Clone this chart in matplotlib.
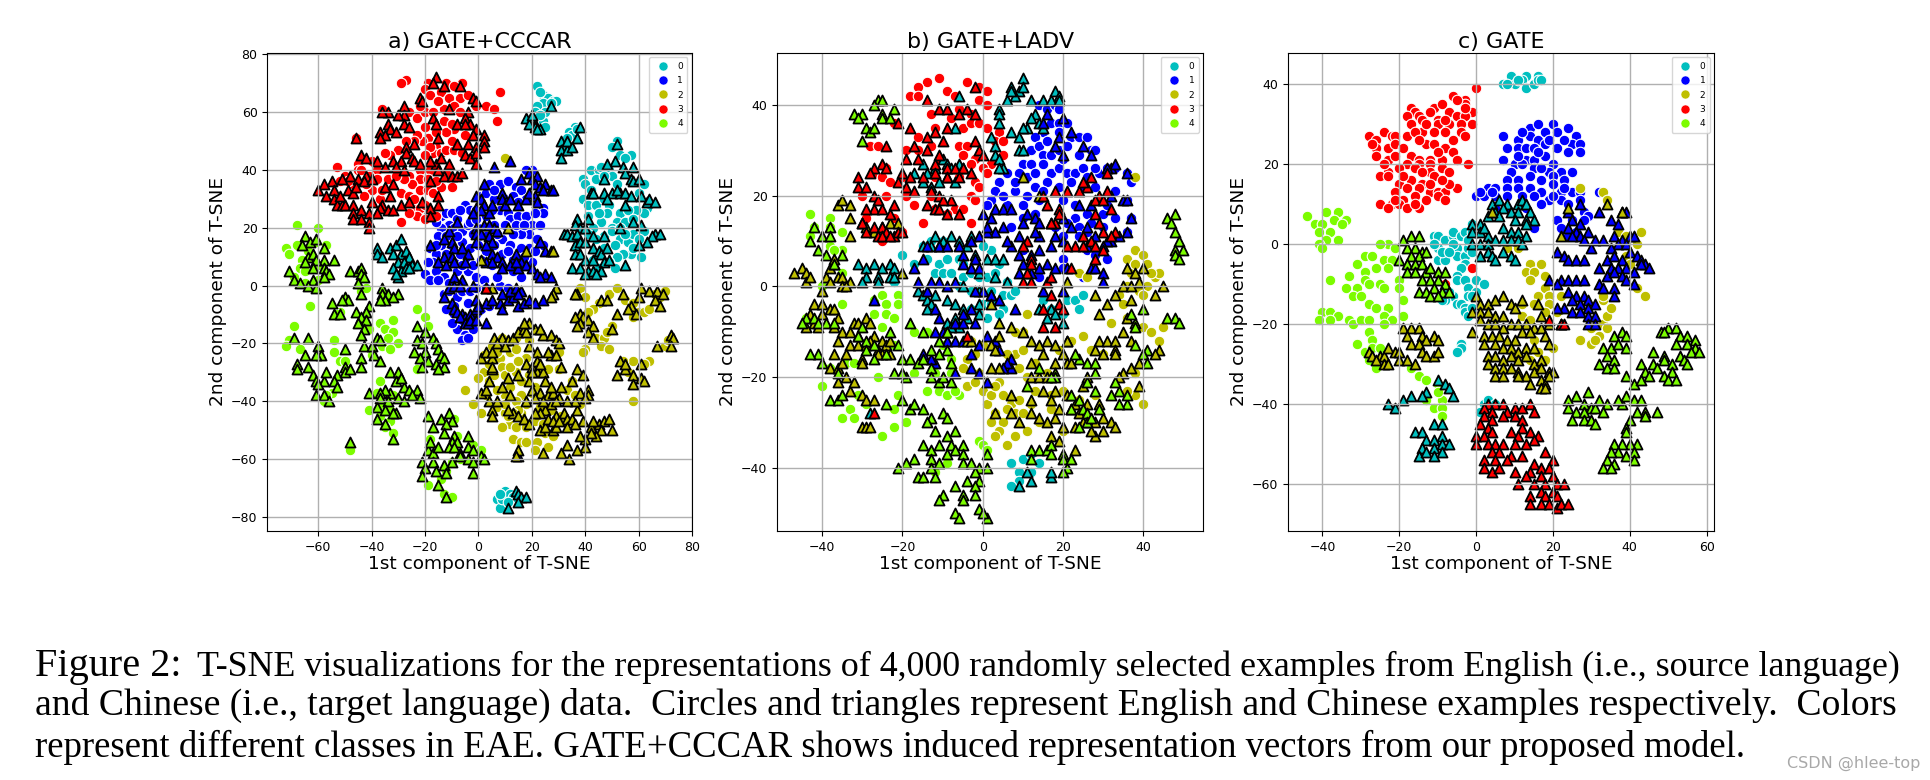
import matplotlib
matplotlib.use('Agg')
import matplotlib.pyplot as plt
from matplotlib.lines import Line2D

class_names = ['0', '1', '2', '3', '4']
class_colors = ['c', 'b', (0.75, 0.75, 0), 'r', 'lawngreen']

### a) GATE+CCCAR
a_c0 = [(22,69),(24,66),(26,65),(28,64),(29,64),(24,63),(22,62),(21,60),(20,58),(22,57),(24,57),(25,55),(36,55),(34,53),(35,52),(33,51),(37,54),
  (7,-74),(8,-77),(10,-71),(9,-74),(12,-72),(8,-72),(13,-73),(11,-75),(52,50),(50,48),(57,45),(53,45),(42,40),(45,40),(46,41),(49,40),(50,38),(39,37),(44,37),(40,35),(42,33),(39,30),(41,28),(44,28),(47,30),(49,28),(53,25),(60,32),(62,35),(63,27),(62,25),(59,26),(46,22),(48,25),(52,22),(50,20),(47,17),(43,20),(41,18),(44,16),(50,19),(53,16),(56,15),(60,14),(58,18),(62,19),(57,11),(54,11),(52,10),(61,10),(49,8),(51,6),(43,9),(45,6),(55,22),(41,24),(60,16),(53,20),
  (23,67),(27,63),(25,60),(23,59),(55,44),(47,38),(52,35),(56,26),(58,23),(45,25),(51,14),(55,18),(47,13),(58,13)]
a_t0 = [(18,58),(20,58),(21,56),(19,56),(21,55),(23,54),(22,54),(27,62),(20,59),(31,50),(32,48),(31,47),(33,47),(31,44),(37,51),(38,55),(33,50),(35,48),
  (14,-71),(15,-72),(16,-73),(18,-73),(15,-75),(11,-77),(52,49),(51,43),(48,42),(54,41),(58,41),(55,39),(57,37),(47,37),(42,32),(43,32),(47,32),(50,32),(48,30),(53,32),(52,33),(55,32),(57,31),(61,31),(63,29),(64,30),(55,28),(66,29),(58,36),(60,37),(41,23),(37,23),(36,21),(38,20),(40,20),(32,18),(33,18),(35,17),(37,18),(43,17),(47,17),(36,14),(38,15),(40,15),(43,13),(45,12),(46,11),(48,13),(36,11),(38,11),(40,9),(43,9),(47,8),(49,9),(35,6),(38,6),(41,5),(43,5),(46,5),(40,4),(44,4),(55,7),(58,22),(61,21),(66,18),(68,18),(65,17),(63,15),(60,14),(53,20),
  (-38,13),(-38,11),(-36,10),(-33,13),(-31,14),(-29,16),(-32,11),(-29,11),(-27,12),(-26,10),(-30,8),(-28,8),(-32,6),(-29,5),(-27,6),(-25,7),(-23,7),(-26,6),(-30,3),(-31,4)]
a_c1 = [(-14,24),(-12,25),(-10,25),(-8,23),(-5,28),(-11,21),(-14,20),(-9,20),(-6,19),(-4,21),(-2,18),(-3,26),(1,31),(3,32),(6,30),(8,35),(11,36),(14,34),(16,33),(18,30),(21,29),(24,27),(8,26),(11,25),(12,23),(15,24),(18,24),(20,21),(23,21),(24,25),(19,18),(16,18),(13,18),(9,16),(7,18),(22,16),(19,13),(16,13),(12,14),(-18,13),(-16,11),(-14,14),(-10,13),(-6,15),(-3,13),(0,14),(3,12),(9,11),(13,9),(20,8),(-20,4),(-18,2),(-16,5),(-13,3),(-11,1),(-8,5),(-4,5),(-1,3),(2,2),(5,7),(16,3),(-13,-3),(-11,-2),(-8,-4),(-6,-2),(-3,-2),(-1,-1),(3,-1),(8,0),(11,-1),(-9,-10),(-7,-12),(-6,-13),(-8,-15),(-5,-17),(-6,-19),(-2,-15),(-3,-12),(-1,-10),(1,-8),(4,-7),(20,40),(18,40),(-17,8),(-9,8),(-5,9),(-2,7),(1,9),(6,21),(3,24),(-1,26),(-3,22),(0,20),(24,14),(21,12),(-19,8),(-15,17),(-12,17),(-8,17),(3,17),(10,30),
  (4,35),(6,33),(13,31),(15,29),(5,26),(-16,22),(-7,26),(-1,23),(10,21),(14,21),(17,21),(21,25),(-12,11),(-7,11),(6,14),(11,12),(17,10),(-15,2),(-6,7),(7,3),(13,5),(-4,-6),(-9,-7),(-12,-8),(-10,-13),(-4,-18),(-16,14)]
a_t1 = [(6,41),(12,43),(2,35),(-1,31),(1,30),(-1,27),(2,28),(-2,25),(1,26),(4,25),(9,32),(9,30),(10,28),(5,28),(12,30),(15,28),(18,30),(16,37),(19,39),(20,37),(22,38),(21,35),(23,34),(25,35),(27,33),(24,33),(28,33),(21,31),(19,32),(22,29),(-1,20),(2,21),(-1,18),(4,21),(6,20),(1,18),(4,17),(5,15),(7,19),(-8,22),(-11,19),(-10,15),(-13,16),(-9,13),(-6,13),(-4,11),(3,14),(-1,15),(5,11),(7,10),(-18,14),(-13,10),(-10,10),(-15,8),(-12,7),(-9,8),(-5,8),(3,8),(5,8),(9,8),(14,11),(16,8),(12,7),(15,6),(18,7),(20,6),(23,15),(25,12),(27,12),(22,4),(25,4),(27,3),(23,3),(14,8),(9,6),(-9,3),(-6,2),(-11,-1),(-9,0),(-7,0),(-2,0),(-1,-5),(-13,-4),(-10,-6),(-9,-8),(-8,-9),(-6,-10),(-5,-11),(-3,-10),(-1,-8),(0,-7),(3,-6),(5,-5),(8,-6),(9,-8),(11,-5),(13,-4),(15,-7),(17,-6),(19,-5),(21,-6),(24,-5),(9,-3),(12,-2),(14,-1),(16,-2),(15,-3),(-7,-11),(-5,-13),(-4,-13),(-3,-12),(-1,-12),(3,-13),(15,-59)]
a_c2 = [(-6,-29),(-5,-36),(-2,-41),(1,-44),(2,-30),(2,-24),(4,-27),(4,-33),(5,-21),(9,-18),(11,-20),(12,-23),(14,-22),(18,-25),(8,-25),(9,-28),(10,-31),(14,-30),(12,-35),(16,-38),(14,-40),(10,-38),(7,-36),(7,-42),(10,-44),(12,-48),(9,-49),(14,-49),(11,-45),(16,-44),(18,-41),(20,-37),(23,-29),(26,-29),(30,-29),(30,-23),(21,-47),(24,-48),(25,-51),(28,-52),(22,-54),(21,-57),(26,-56),(13,-53),(16,-54),(18,-54),(33,-36),(36,-38),(38,-41),(35,-33),(27,-43),(31,-45),(38,-1),(40,-4),(45,-6),(43,-8),(41,-9),(49,-3),(52,-1),(55,-5),(58,-6),(60,-9),(58,-11),(62,-9),(64,-8),(68,-4),(70,-2),(66,-3),(44,-18),(47,-18),(46,-21),(49,-22),(40,-22),(39,-23),(50,-14),(48,-16),(58,-26),(54,-26),(64,-26),(62,-27),(58,-40),(56,-30),(70,-21),(71,-19),(10,44),(15,-43),(19,-31),
  (0,-32),(6,-31),(3,-38),(16,-33),(12,-28),(15,-26),(21,-35),(10,-41),(13,-44),(18,-49),(23,-42),(19,-19),(14,-18),(7,-23)]
a_t2 = [(6,-18),(9,-18),(11,-19),(13,-18),(15,-16),(17,-15),(18,-16),(21,-15),(24,-17),(27,-17),(29,-19),(30,-20),(5,-25),(1,-25),(3,-23),(5,-23),(10,-21),(7,-20),(19,-21),(22,-23),(18,-27),(20,-28),(22,-26),(27,-24),(26,-23),(29,-24),(5,-29),(5,-28),(1,-37),(3,-36),(4,-40),(5,-43),(7,-40),(5,-45),(9,-35),(4,-33),(11,-32),(15,-31),(19,-33),(22,-30),(24,-30),(25,-33),(20,-36),(23,-37),(26,-38),(28,-37),(31,-35),(31,-28),(35,-33),(37,-29),(39,-31),(41,-36),(38,-37),(41,-38),(40,-39),(30,-39),(27,-41),(25,-43),(23,-44),(29,-45),(32,-44),(33,-46),(35,-46),(37,-43),(13,-44),(15,-45),(11,-43),(17,-46),(21,-44),(19,-48),(23,-50),(25,-49),(28,-50),(29,-49),(33,-49),(39,-47),(42,-49),(45,-48),(47,-47),(49,-46),(50,-50),(46,-50),(44,-52),(42,-51),(40,-53),(40,-56),(15,-57),(14,-59),(24,-58),(31,-58),(34,-60),(33,-55),(37,-57),(36,-40),(12,-38),(37,-3),(38,-10),(36,-11),(39,-11),(41,-12),(38,-13),(43,-14),(37,-14),(41,-16),(46,-5),(48,-5),(43,-18),(50,-15),(52,-10),(54,-3),(57,-7),(60,-4),(56,-8),(59,-10),(61,-1),(64,-2),(67,-2),(66,-5),(68,-7),(69,-3),(53,-26),(52,-31),(55,-29),(55,-27),(58,-31),(58,-34),(61,-32),(61,-27),(62,-33),(67,-21),(72,-17),(73,-18),(72,-21),(19,-13),(17,-13),(23,-15),(18,12),(28,12),(29,-1),(28,-3),(27,-4),(1,9),(5,-1),(3,-1),(11,20),(36,-3),
  (24,-40),(27,-35),(29,-40),(33,-40),(21,-39),(18,-40),(26,-46),(28,-47),(30,-47),(36,-48),(20,-30),(23,-27),(38,-52),(43,-47)]
a_c3 = [(-27,71),(-29,70),(-19,70),(-20,68),(-12,70),(-6,70),(-9,69),(-18,66),(-14,67),(-11,65),(-7,65),(-4,66),(-1,62),(3,62),(6,61),(8,67),(7,57),(-26,60),(-23,58),(-20,60),(-17,60),(-13,61),(-9,62),(-7,60),(-20,55),(-13,57),(-9,54),(-12,53),(-19,51),(-16,48),(-21,50),(-23,52),(-17,46),(-14,46),(-12,47),(-9,47),(-6,46),(-30,47),(-33,45),(-35,46),(-45,42),(-45,40),(-40,43),(-38,40),(-44,40),(-41,38),(-38,37),(-40,33),(-34,37),(-26,38),(-22,40),(-22,37),(-25,35),(-22,33),(-19,33),(-17,32),(-14,34),(-29,32),(-26,31),(-25,27),(-22,27),(-20,28),(-23,24),(-29,22),(-20,23),(-46,51),(-53,41),(-50,38),(-52,36),(-47,35),(-36,61),(-16,24),(-24,50),(-18,40),(-12,39),(-10,56),(-5,52),(-3,44),(-43,31),(-37,30),
  (-15,64),(-22,62),(-16,53),(-18,48),(-10,50),(-20,45),(-28,37),(-31,38),(-19,37),(-16,36),(-26,25),(-24,30),(-42,35),(-49,36),(-36,33),(-10,34),(-27,50)]
a_t3 = [(-16,72),(-13,69),(-17,70),(-7,69),(-22,65),(-21,64),(-2,65),(-1,64),(-28,62),(-28,59),(-34,60),(-36,60),(-30,59),(-11,61),(-4,60),(-5,58),(-3,56),(-17,58),(-28,56),(-26,55),(-34,56),(-33,54),(-37,53),(-35,52),(-31,53),(-37,51),(-16,56),(-8,56),(-5,56),(-1,54),(-2,52),(2,52),(2,50),(-1,48),(-4,49),(-8,49),(-15,51),(-27,48),(-24,49),(-46,51),(2,48),(-27,46),(-25,44),(-44,45),(-42,44),(-38,43),(-32,43),(-29,43),(-24,43),(-22,42),(-16,42),(-14,44),(-11,42),(-5,45),(-3,44),(-1,46),(-1,42),(-35,41),(-42,38),(-48,38),(-45,37),(-51,37),(-55,36),(-54,33),(-58,35),(-60,33),(-57,31),(-54,30),(-49,33),(-47,32),(-46,34),(-43,36),(-40,37),(-35,34),(-32,35),(-33,31),(-36,28),(-29,28),(-26,29),(-21,29),(-18,27),(-15,31),(-15,28),(-18,36),(-13,38),(-10,38),(-8,38),(-6,39),(-53,28),(-51,28),(-50,28),(-47,28),(-47,25),(-44,26),(-41,25),(-41,22),(-41,20),(-37,27),(-34,26),(-32,26),(-18,24),(-47,23),(-44,23),(-38,25),(-18,43),(-15,40),(-31,41),(-28,40),(-40,29),(-52,31),(3,-1)]
a_c4 = [(-68,21),(-60,20),(-72,13),(-71,11),(-68,14),(-64,12),(-57,14),(-66,9),(-61,15),(-67,6),(-65,5),(-60,7),(-69,3),(-65,1),(-60,2),(-63,-7),(-44,-2),(-42,-1),(-52,-9),(-53,-10),(-23,-8),(-20,-11),(-19,-14),(-37,-13),(-32,-12),(-35,-15),(-32,-16),(-30,-20),(-34,-18),(-36,-21),(-41,-15),(-69,-14),(-71,-19),(-72,-21),(-67,-22),(-54,-19),(-54,-23),(-52,-26),(-50,-26),(-40,-24),(-33,-22),(-37,-33),(-38,-37),(-37,-41),(-41,-43),(-37,-45),(-33,-47),(-35,-49),(-32,-51),(-48,-56),(-48,-57),(-32,-38),(-55,-37),(-57,-38),(-58,-40),(-23,-29),(-9,-46),(-8,-52),(-2,-55),(1,-57),(-7,-60),(-10,-61),(-14,-67),(-19,-69),(-13,-72),(-10,-73),(-18,-53),(-12,-64),(-23,-38),(-33,-43)]
a_t4 = [(-65,17),(-63,15),(-66,14),(-61,16),(-58,13),(-64,10),(-62,11),(-58,9),(-54,9),(-65,8),(-61,9),(-62,6),(-58,6),(-71,5),(-57,5),(-56,4),(-58,3),(-69,2),(-67,1),(-62,2),(-64,0),(-61,-1),(-48,5),(-45,5),(-44,6),(-44,4),(-43,3),(-45,1),(-36,-1),(-36,-3),(-34,-3),(-30,-3),(-32,-4),(-35,-5),(-37,-5),(-44,-3),(-50,-4),(-49,-5),(-51,-5),(-55,-6),(-54,-10),(-52,-10),(-41,-7),(-42,-9),(-46,-9),(-44,-11),(-42,-12),(-45,-13),(-43,-15),(-44,-17),(-38,-18),(-37,-19),(-43,-21),(-40,-21),(-39,-24),(-44,-25),(-37,-26),(-44,-28),(-23,-14),(-20,-16),(-17,-18),(-23,-19),(-21,-20),(-16,-20),(-24,-23),(-20,-23),(-15,-22),(-14,-24),(-13,-25),(-22,-25),(-19,-26),(-16,-27),(-13,-28),(-21,-28),(-15,-29),(-69,-18),(-64,-18),(-60,-21),(-59,-24),(-61,-24),(-65,-24),(-68,-27),(-68,-29),(-64,-28),(-62,-31),(-61,-33),(-58,-33),(-57,-30),(-53,-31),(-50,-28),(-50,-22),(-50,-30),(-48,-29),(-54,-33),(-53,-35),(-60,-34),(-61,-38),(-58,-38),(-56,-40),(-33,-30),(-30,-30),(-31,-33),(-28,-35),(-29,-32),(-23,-36),(-26,-36),(-33,-37),(-35,-36),(-37,-37),(-41,-37),(-37,-39),(-34,-40),(-30,-39),(-28,-40),(-22,-39),(-25,-38),(-38,-42),(-35,-43),(-31,-44),(-38,-46),(-35,-48),(-32,-44),(-32,-53),(-48,-54),(-19,-45),(-14,-46),(-11,-44),(-10,-47),(-17,-49),(-12,-48),(-9,-52),(-13,-51),(-10,-54),(-8,-54),(-4,-52),(-19,-57),(-17,-58),(-15,-56),(-11,-56),(-9,-56),(-7,-58),(-4,-56),(-2,-57),(-21,-61),(-17,-61),(-13,-62),(-10,-61),(-7,-59),(-4,-60),(-2,-61),(1,-59),(2,-60),(-20,-63),(-16,-64),(-12,-65),(-2,-65),(-21,-66),(-15,-69),(-12,-73),(-18,-54)]

### b) GATE+LADV
b_c0 = [(-20,7),(-17,5),(-13,10),(-15,9),(-10,10),(-14,6),(-11,5),(-9,6),(-6,6),(-12,3),(-10,3),(-8,3),(-5,2),(-3,3),(-1,2),(1,2),(2,8),(0,9),(4,5),(-22,1),(-6,0),(-3,-1),(-1,-1),(2,-1),(5,-2),(7,-2),(0,-4),(2,-4),(5,-5),(-3,-5),(1,-7),(4,-6),(-1,-6),(17,-5),(20,-6),(21,-3),(23,-3),(25,-2),(24,-5),(15,-3),(7,-39),(9,-41),(10,-38),(12,-37),(14,-39),(9,-43),(12,-41),(7,-44),(-5,5),(-2,6),(3,3),(6,1),(8,-1)]
b_t0 = [(-6,42),(7,44),(9,43),(10,46),(10,44),(8,42),(12,41),(13,38),(15,41),(17,41),(18,43),(19,42),(6,41),(7,43),(4,39),(4,38),(12,37),(11,35),(14,36),(15,35),(19,41),(-7,35),(4,36),(10,35),(7,34),(9,33),(2,33),(9,30),(10,30),(3,31),(3,29),(4,28),(5,26),(4,26),(-1,-1),(-10,28),(-9,27),(-6,27),(-8,26),(-5,26),(-12,26),(-15,27),(-17,25),(-14,25),(-11,23),(-9,24),(-7,23),(-13,22),(-15,23),(-12,11),(-10,10),(-8,11),(-6,10),(-3,11),(-4,9),(-15,9),(-13,9),(-11,9),(-2,7),(1,6),(3,6),(5,6),(-31,5),(-29,4),(-27,5),(-25,4),(-23,5),(-22,4),(-23,2),(-26,2),(-29,2),(-30,1),(-26,1),(-22,2),(-1,3),(3,2),(6,1),(-5,0),(-16,-1),(-15,-2),(-14,-3),(-13,-4),(-12,-2),(-14,-5),(-9,-3),(-7,-4),(-5,-5),(-9,-8),(-7,-7),(-6,-9),(-8,-9),(-4,-7),(14,-5),(17,-5),(18,-6),(16,-7),(20,-8),(-28,-28),(17,-42),(12,-43),(9,-44),(-1,-4),(2,-2),(-1,-6),(11,-41),(17,-41)]
b_c1 = [(14,40),(16,39),(18,40),(19,39),(17,36),(19,36),(15,34),(19,34),(13,33),(21,36),(22,33),(24,33),(26,33),(12,30),(14,31),(15,29),(17,29),(19,30),(21,31),(24,29),(27,30),(28,30),(10,27),(12,27),(15,27),(17,25),(19,26),(9,25),(6,25),(11,24),(16,23),(13,22),(15,21),(19,22),(21,25),(23,25),(25,26),(26,24),(29,25),(31,26),(33,26),(36,25),(37,23),(4,23),(3,21),(8,21),(11,20),(2,19),(-2,19),(1,18),(6,18),(10,18),(13,16),(23,18),(26,16),(27,14),(30,16),(30,13),(33,15),(36,19),(37,15),(36,12),(7,13),(23,15),(24,13),(24,11),(26,8),(28,7),(31,6),(20,6),(20,4),(25,2),(14,2),(10,8),(18,13),(20,11),
  (16,32),(20,28),(13,25),(8,23),(5,20),(14,19),(20,19),(25,22),(28,22),(31,18),(33,21),(22,23),(28,26),(10,15),(21,14),(33,11),(26,12)]
b_t1 = [(-27,-3),(-12,-17),(-7,-19),(-9,-12),(-7,-12),(-5,-12),(-3,-15),(-1,-13),(1,-11),(3,-12),(4,-14),(-3,-18),(-1,-19),(7,-16),(1,-21),(-10,-10),(-9,-10),(-12,-10),(-15,-15),(-13,-16),(-7,-8),(-5,-8),(-5,-6),(-3,-5),(-2,-8),(0,-1),(2,-2),(4,-3),(-12,-5),(-11,-7),(8,-5),(7,-18),(6,-17),(5,-18),(-2,-1),(-9,0),(-7,1),(-11,1),(-13,1),(-16,1),(-17,4),(-15,6),(-14,9),(-11,9),(-9,9),(-6,9),(-5,7),(-2,6),(-3,10),(-5,5),(-3,4),(-1,4),(19,33),(18,31),(25,31),(27,29),(20,29),(16,38),(15,36),(20,37),(22,34),(32,26),(33,27),(36,25),(32,20),(35,19),(36,19),(37,15),(36,12),(34,11),(32,10),(31,10),(30,9),(27,4),(28,4),(30,3),(30,1),(21,4),(15,-1),(20,-1),(14,8),(14,11),(17,14),(20,15),(22,13),(24,18),(27,18),(26,13),(28,11),(26,9),(20,10),(18,11),(13,12),(11,16),(10,14),(9,11),(7,9),(9,7),(12,7),(14,4),(16,5),(18,4),(10,5),(9,3),(12,3),(6,10),(5,13),(3,12),(1,12),(-1,11),(1,13),(3,17),(5,17),(7,17),(2,15),(0,16),(13,15),(14,14),(17,9),(31,26),(-14,-1)]
b_c2 = [(-1,-19),(-3,-12),(-2,-15),(0,-13),(-4,-16),(0,-23),(1,-26),(3,-28),(2,-24),(5,-24),(7,-26),(8,-28),(5,-30),(4,-32),(6,-35),(11,-32),(9,-25),(11,-20),(13,-17),(8,-15),(10,-14),(10,-10),(8,-10),(11,-6),(14,-20),(17,-24),(20,-23),(24,-25),(25,-28),(28,-24),(20,-32),(17,-27),(25,-11),(22,-12),(19,-14),(27,-14),(30,-15),(32,-8),(24,3),(26,2),(36,6),(37,3),(38,8),(40,7),(41,5),(43,2),(44,3),(41,0),(39,-1),(36,0),(34,-2),(40,-9),(42,-10),(44,-12),(45,-9),(36,-7),(35,-4),(38,24),(38,-19),(38,-24),(40,-26),(36,-23),(-5,-18),(-4,-22),(-2,-21),(4,-21),(6,-15),(12,-26),(14,-30),
  (3,-22),(6,-27),(10,-28),(13,-23),(16,-19),(9,-18),(3,-33),(8,-33),(2,-30),(38,5),(42,3),(40,-2)]
b_t2 = [(-47,3),(-45,4),(-44,3),(-44,1),(-43,2),(-39,2),(-38,4),(-37,5),(-37,6),(-36,2),(-35,2),(-38,1),(-40,-1),(-33,1),(-35,0),(-34,0),(-42,-4),(-40,-4),(-38,-5),(-37,-5),(-36,-7),(-42,-8),(-44,-9),(-41,-9),(-37,-9),(-32,-8),(-31,-8),(-29,-7),(-28,-8),(-35,-10),(-36,-12),(-31,-11),(-27,-11),(-25,-12),(-33,-13),(-31,-13),(-29,-13),(-26,-14),(-24,-13),(-37,-15),(-25,-15),(-23,-15),(-30,-16),(-30,-17),(-38,-18),(-36,-18),(-34,-20),(-36,-21),(-33,-23),(-30,-24),(-29,-25),(-27,-25),(-30,-31),(-29,-31),(-28,-31),(-36,18),(-35,19),(-33,18),(-33,15),(-30,14),(-29,13),(-27,12),(-25,13),(-23,14),(-21,14),(-33,11),(-4,-12),(-3,-12),(2,-13),(3,-14),(4,-11),(4,-8),(7,-9),(10,-10),(4,-18),(2,-18),(7,-24),(7,-28),(9,-30),(3,-28),(12,-12),(14,-13),(12,-17),(16,-12),(18,-13),(21,-12),(15,-15),(12,-20),(14,-20),(16,-20),(18,-17),(21,-17),(20,-15),(22,-17),(15,-23),(18,-23),(17,-25),(21,-24),(12,-25),(12,-28),(14,-29),(16,-30),(18,-29),(22,-27),(23,-31),(25,-30),(23,-26),(26,-26),(29,-26),(28,-30),(30,-29),(32,-30),(33,-31),(30,-32),(28,-33),(23,-36),(19,-34),(17,-33),(25,-22),(26,-20),(37,-12),(29,-6),(31,-4),(28,-2),(33,-2),(35,0),(37,-3),(36,-7),(35,-10),(29,-12),(31,-12),(33,-12),(28,-14),(30,-15),(33,-14),(33,-15),(35,-19),(34,-20),(37,-18),(39,-17),(39,-22),(36,4),(38,3),(40,4),(39,1),(43,-2),(45,0),(44,-14),(43,-15),(37,0),(2,-4),(10,24),(14,20),(21,1),(-20,3),(-26,-15),(21,-12),
  (-40,-6),(-43,-6),(-33,-10),(-28,-12),(-35,-17),(-32,-21),(-34,-15),(-23,-12),(19,-27),(24,-28),(20,-31),(27,-32)]
b_c3 = [(-11,46),(-14,45),(-16,44),(-18,42),(-9,43),(-7,42),(-4,45),(-1,44),(1,43),(-16,42),(-1,41),(1,40),(-13,38),(-6,39),(-3,38),(-22,36),(-8,37),(-5,35),(-3,36),(-12,35),(-16,33),(-1,36),(1,35),(4,34),(3,32),(5,32),(-6,31),(-4,31),(-2,28),(-5,29),(-3,27),(2,27),(5,29),(-28,31),(-26,31),(-19,30),(-16,30),(-13,31),(-11,28),(-24,26),(-27,25),(-25,24),(-23,23),(0,26),(1,25),(-2,23),(-1,22),(-3,20),(-19,20),(-17,18),(-13,20),(-7,17),(-5,17),(-3,14),(-15,14),(-24,20),(-27,12),(-25,10),(-22,15),(-20,12),(-30,20),(-29,15),(-12,17),(-9,16),(-6,24),(-20,24),(-12,24),(-2,19)]
b_t3 = [(-2,44),(-14,41),(-11,39),(-9,39),(-6,38),(-4,39),(-2,38),(-21,36),(-18,35),(-12,34),(-9,35),(-14,33),(-10,32),(-2,32),(-1,30),(0,29),(-24,31),(-17,31),(-14,30),(-11,29),(-19,28),(-16,28),(-12,27),(-9,26),(-7,26),(-5,26),(-25,27),(-27,26),(-28,25),(-24,26),(-20,25),(-18,24),(-15,24),(-12,25),(-9,24),(-6,24),(-3,25),(-31,24),(-31,22),(-29,22),(-21,23),(-19,22),(-17,21),(-13,21),(-11,20),(-8,19),(-10,19),(-27,20),(-26,19),(-22,18),(-14,18),(-12,17),(-11,17),(-9,16),(-6,16),(-27,17),(-25,17),(-23,16),(-29,17),(-27,13),(-25,13),(-30,14),(-24,12),(-22,11),(-21,12),(-29,12),(-26,11),(-25,11),(-23,11),(-20,12),(-27,-28),(15,20),(18,21),(16,18),(19,17),(18,14),(19,16),(21,21),(24,21),(26,22),(27,24),(29,20),(31,21),(28,19),(30,19),(32,17),(28,16),(29,14),(30,12),(33,12),(32,11),(25,11),(27,10),(23,9),(25,9),(28,9),(30,8),(28,6),(21,9),(11,10),(10,9),(12,6),(12,5),(11,3),(10,1),(12,1),(16,1),(17,2),(17,-2),(19,-4),(15,-5),(20,-5),(18,-9),(15,-9),(22,4),(31,25),(-4,-11),(17,14),(25,23)]
b_c4 = [(-43,16),(-42,13),(-43,11),(-38,15),(-35,12),(-38,13),(-35,8),(-38,9),(-37,8),(-35,3),(-40,0),(-35,-4),(-44,-7),(-42,-8),(-27,-3),(-25,-2),(-24,-4),(-21,-2),(-21,-4),(-27,-6),(-24,-6),(-22,-7),(-25,-9),(-17,-10),(-22,-13),(-38,-18),(-34,-17),(-32,-17),(-31,-24),(-33,-27),(-35,-29),(-32,-29),(-29,-26),(-40,-22),(-26,-20),(-14,-23),(-11,-23),(-9,-24),(-6,-24),(-7,-23),(-21,-24),(-22,-27),(-25,-33),(-22,-31),(-19,-30),(-1,-34),(0,-35),(1,-36),(-9,-39),(-12,-41),(-17,-19),(-12,-19),(-8,-19),(-8,-16),(-14,-10),(-10,-13)]
b_t4 = [(-32,38),(-30,38),(-31,37),(-29,35),(-28,34),(-27,35),(-30,32),(-26,41),(-25,41),(-27,40),(-25,38),(-25,37),(-22,39),(-23,37),(-42,13),(-40,11),(-38,13),(-38,11),(-43,10),(-41,8),(-39,7),(-35,7),(-37,5),(-44,-7),(-42,-7),(-41,-8),(-39,-8),(-45,-8),(-37,-8),(-30,-9),(-31,-11),(-29,-12),(-27,-13),(-41,-15),(-43,-15),(-40,-17),(-36,-19),(-38,-25),(-36,-25),(-35,-24),(-22,-19),(-19,-20),(-29,-14),(-27,-16),(-24,-15),(-20,-16),(-18,-16),(-16,-17),(-13,-18),(-15,-16),(-13,-14),(-11,-15),(-9,-14),(-8,-17),(-11,-12),(-9,-10),(-18,-8),(-15,-10),(-23,-10),(-21,-13),(-20,-19),(-13,-20),(-11,-21),(-10,-20),(-8,-21),(-24,-26),(-20,-25),(-18,-27),(-17,-26),(-15,-27),(-13,-29),(-10,-28),(-9,-29),(-14,-30),(-12,-32),(-9,-33),(-7,-32),(-15,-35),(-13,-36),(-11,-35),(-8,-35),(-5,-35),(-9,-37),(-7,-36),(-5,-37),(-17,-38),(-19,-39),(-21,-40),(-13,-38),(-11,-39),(-13,-40),(-5,-39),(-3,-39),(-1,-40),(1,-37),(1,-40),(-2,-41),(-1,-43),(-16,-42),(-15,-42),(-12,-42),(-7,-44),(-5,-46),(-2,-44),(-10,-46),(-11,-47),(-5,-47),(-2,-46),(-1,-49),(-7,-50),(-6,-51),(1,-51),(0,-50),(-4,-43),(12,-36),(14,-36),(16,-36),(17,-35),(17,-37),(12,-38),(20,-37),(21,-40),(20,-41),(20,-38),(22,-38),(22,-24),(24,-25),(25,-27),(26,-28),(22,-27),(26,-30),(29,-27),(27,-29),(24,-31),(28,-23),(11,-22),(14,-18),(18,-19),(24,-16),(26,-17),(28,-19),(28,-17),(23,-15),(36,-26),(36,-24),(34,-23),(33,-21),(32,-24),(34,-26),(38,-13),(41,-14),(40,-15),(41,-17),(38,-8),(40,-5),(37,-6),(38,-9),(46,-7),(48,-7),(49,-8),(46,15),(48,16),(47,14),(48,12),(49,10),(48,8),(50,8),(48,7),(49,6),(18,-20),(26,-21),(17,-20)]

### c) GATE
c_c0 = [(7,40),(9,42),(10,40),(13,42),(12,41),(13,39),(15,40),(16,42),(16,41),(17,41),(8,40),(11,41),(-11,2),(-10,2),(-8,1),(-6,2),(-6,3),(-4,2),(-3,3),(-1,3),(-1,5),(-10,-1),(-10,-4),(-8,-4),(-5,-1),(-5,-3),(-3,-3),(-2,-1),(-3,-5),(-4,-6),(-5,-8),(-5,-9),(-3,-9),(-2,-11),(0,-9),(2,-10),(-2,-13),(0,-12),(-6,-13),(-5,-15),(-4,-15),(-3,-16),(-3,-17),(-2,-18),(-1,-16),(-8,-14),(-1,-13),(-4,-25),(-4,-26),(-5,-27),(-11,0),(-9,-2),(2,-40),(3,-39),(5,-40),(1,-42),(-6,0),(-7,-2),(-9,-14),(-1,-2),(-2,1),(-7,-12)]
c_t0 = [(4,10),(6,11),(8,10),(7,9),(5,8),(11,10),(12,11),(13,10),(9,8),(11,8),(14,8),(15,6),(13,6),(-1,5),(1,5),(3,7),(6,7),(10,6),(13,5),(-1,3),(1,3),(3,2),(2,4),(7,4),(9,3),(11,3),(13,2),(-1,0),(1,0),(3,0),(5,1),(7,1),(9,1),(11,1),(12,0),(1,-3),(3,-2),(4,-3),(7,-2),(9,-3),(10,-4),(5,-4),(-23,-40),(-21,-41),(-19,-39),(-17,-38),(-10,-34),(-8,-35),(-7,-36),(-6,-38),(-13,-37),(-14,-38),(-16,-47),(-14,-47),(-11,-45),(-9,-45),(-13,-49),(-11,-49),(-9,-48),(-14,-51),(-11,-51),(-9,-50),(-7,-50),(-15,-53),(-13,-52),(-11,-53),(-9,-52)]
c_c1 = [(14,29),(16,30),(20,30),(24,29),(26,27),(7,27),(11,26),(14,27),(16,26),(18,28),(21,28),(8,24),(11,24),(13,24),(15,24),(18,25),(21,24),(25,25),(27,25),(27,23),(7,21),(10,20),(13,21),(15,21),(18,22),(20,20),(9,18),(12,20),(15,19),(19,18),(22,18),(25,18),(8,16),(11,16),(14,17),(17,16),(20,17),(23,16),(3,14),(5,14),(8,14),(11,14),(14,14),(17,13),(20,15),(0,12),(2,12),(5,12),(8,12),(12,12),(15,12),(19,11),(22,13),(25,13),(27,13),(32,13),(5,9),(8,9),(13,9),(17,10),(22,11),(24,10),(27,11),(28,8),(29,7),(21,6),(25,6),(28,6),(22,4),(24,2),(26,3),(15,4),
  (12,28),(19,26),(23,26),(16,23),(24,23),(11,22),(17,19),(23,14),(1,13),(4,13),(20,12)]
c_t1 = [(24,8),(27,10),(32,8),(35,6),(37,5),(38,8),(39,8),(25,6),(27,5),(24,4),(26,3),(29,3),(27,2),(25,2),(28,1),(31,1),(33,1),(36,2),(38,1),(40,2),(41,2),(37,0),(39,0),(35,-1),(21,-2),(23,-3),(24,-4),(26,-4),(28,-4),(30,-1),(34,-4),(36,-3),(38,-4),(40,-2),(42,-3),(43,-4),(44,-5),(32,-6),(35,-6),(37,-6),(39,-6),(41,-7),(43,-5),(45,-6),(34,-8),(36,-7),(38,-8),(22,-9),(19,-9),(24,-9),(26,-9),(28,-9),(21,-10),(32,-10),(33,-11),(41,-10),(36,-11),(24,-12),(26,-13),(28,-13),(29,-14),(31,-15),(25,-14),(23,-16),(27,-15),(21,-16),(29,-16),(25,-17),(27,-17),(29,-18),(31,-18),(22,-20),(29,-20),(31,-20),(36,-13),(39,-9)]
c_c2 = [(14,-5),(13,-7),(17,-5),(15,-7),(18,-8),(14,-9),(18,-11),(16,-13),(19,-13),(22,-13),(12,-15),(15,-15),(19,-15),(12,-18),(14,-19),(18,-17),(21,-17),(15,-24),(16,-27),(14,-29),(27,-24),(30,-21),(32,-23),(33,-20),(34,-18),(35,-16),(33,-14),(30,-25),(34,-21),(31,-24),(27,14),(33,13),(34,11),(37,3),(39,2),(43,3),(42,0),(39,-3),(40,-5),(42,-11),(44,-13),(8,-1),(11,-1),(33,-13),(20,-26),(18,-29)]
c_t2 = [(0,-13),(1,-15),(3,-15),(5,-14),(7,-13),(9,-15),(10,-16),(12,-14),(-1,-17),(1,-17),(3,-17),(5,-18),(7,-18),(9,-20),(1,-19),(3,-20),(5,-20),(7,-21),(11,-20),(13,-20),(15,-21),(17,-21),(19,-20),(-1,-22),(2,-23),(4,-23),(6,-23),(8,-24),(10,-24),(12,-22),(14,-22),(18,-23),(2,-25),(5,-25),(7,-26),(9,-26),(11,-27),(13,-26),(15,-26),(19,-25),(3,-28),(5,-28),(7,-29),(9,-28),(11,-29),(13,-28),(15,-30),(17,-29),(3,-30),(5,-31),(7,-31),(9,-31),(11,-32),(13,-33),(15,-32),(17,-31),(19,-32),(20,-32),(5,-33),(7,-33),(11,-33),(14,-35),(17,-34),(18,-35),(19,-33),(17,-36),(18,-36),(16,-15),(17,-18),(-19,-21),(-17,-21),(-18,-23),(-15,-21),(-14,-23),(-13,-24),(-17,-25),(-15,-25),(-11,-23),(-10,-24),(-14,-27),(-13,-28),(-11,-28),(-10,-27),(-28,-27),(-27,-28),(-25,-28),(-24,-28),(-26,-29),(-24,-30),(-23,-30),(-23,-26),(-21,-27),(-20,-27),(-20,-29),(-18,-29),(-16,-30),(24,9),(34,10),(38,8),(22,2),(4,8)]
c_c3 = [(0,39),(-6,37),(-3,36),(-3,35),(-1,33),(-5,36),(-11,34),(-9,35),(-17,34),(-16,33),(-18,32),(-15,32),(-12,33),(-10,31),(-7,33),(-5,32),(-3,32),(-1,30),(-14,31),(-10,30),(-7,30),(-4,30),(-17,30),(-14,28),(-11,28),(-8,28),(-4,28),(-3,27),(-24,28),(-28,27),(-26,26),(-22,27),(-21,27),(-18,27),(-16,28),(-26,24),(-23,24),(-21,25),(-13,25),(-11,25),(-8,24),(-26,22),(-23,21),(-17,22),(-15,21),(-12,21),(-9,21),(-6,23),(-5,21),(-2,20),(-21,22),(-18,20),(-15,20),(-12,20),(-9,19),(-23,18),(-20,19),(-16,19),(-12,18),(-7,18),(-25,17),(-23,17),(-20,15),(-17,16),(-14,15),(-11,17),(-21,13),(-18,14),(-15,14),(-12,13),(-10,13),(-8,13),(-5,14),(-25,10),(-22,10),(-19,11),(-16,12),(-13,11),(-10,12),(-8,11),(-23,9),(-20,10),(-18,9),(-15,9),(-7,15),(-1,-6),(-8,-10),
  (-13,30),(-6,26),(-15,26),(-19,24),(-10,23),(-24,20),(-14,18),(-9,16),(-19,17),(-12,15),(-16,10),(-21,11),(-27,25),(-8,31),(-3,34)]
c_t3 = [(3,-40),(5,-40),(7,-40),(4,-42),(2,-41),(8,-42),(10,-41),(12,-41),(14,-40),(15,-42),(2,-43),(4,-44),(7,-43),(10,-43),(12,-44),(1,-45),(3,-46),(12,-46),(0,-48),(2,-48),(4,-47),(9,-47),(11,-48),(14,-47),(16,-48),(0,-50),(3,-50),(5,-50),(7,-50),(10,-50),(13,-50),(15,-49),(4,-52),(6,-52),(9,-53),(12,-53),(2,-54),(5,-54),(8,-54),(18,-52),(15,-55),(20,-54),(2,-56),(4,-57),(6,-56),(14,-57),(17,-56),(19,-56),(10,-57),(13,-58),(17,-58),(20,-58),(11,-60),(15,-60),(18,-60),(21,-60),(23,-60),(17,-62),(20,-62),(14,-63),(18,-63),(21,-63),(14,-65),(17,-65),(19,-65),(21,-66),(22,-65),(24,-65),(19,-19),(22,-20),(23,-20)]
c_c4 = [(-44,7),(-42,5),(-39,8),(-36,8),(-37,6),(-34,6),(-40,5),(-35,5),(-41,3),(-38,3),(-36,1),(-39,1),(-41,0),(-40,-1),(-23,0),(-25,0),(-21,-1),(-29,-3),(-27,-3),(-24,-4),(-22,-4),(-31,-5),(-29,-7),(-26,-6),(-23,-6),(-38,-9),(-33,-8),(-29,-9),(-25,-10),(-20,-9),(-20,-11),(-31,-11),(-28,-10),(-24,-11),(-34,-11),(-32,-13),(-30,-13),(-28,-15),(-23,-16),(-26,-16),(-19,-14),(-40,-17),(-38,-17),(-36,-18),(-41,-19),(-38,-19),(-33,-19),(-32,-20),(-30,-19),(-28,-19),(-24,-18),(-22,-19),(-19,-18),(-24,-20),(-28,-22),(-27,-24),(-31,-25),(-29,-27),(-27,-26),(-25,-26),(-28,-29),(-26,-31),(-17,-31),(-15,-33),(-13,-34),(-10,-35),(-9,-39),(-11,-41),(-13,-39),(-9,-41),(-9,-43),(-10,-37)]
c_t4 = [(-19,1),(-17,2),(-15,2),(-18,-1),(-16,-1),(-14,-2),(-20,-4),(-17,-3),(-15,-3),(-13,-2),(-18,-5),(-16,-5),(-14,-5),(-18,-7),(-16,-7),(-13,-7),(-12,-6),(-10,-7),(-8,-7),(-14,-9),(-12,-9),(-10,-9),(-8,-10),(-15,-12),(-13,-12),(-11,-11),(-9,-12),(-7,-12),(-12,-13),(-10,-13),(36,-23),(38,-22),(39,-23),(33,-26),(35,-26),(37,-25),(39,-26),(32,-30),(34,-28),(36,-29),(34,-31),(36,-31),(48,-22),(50,-21),(52,-21),(49,-22),(53,-23),(55,-23),(57,-24),(52,-25),(55,-25),(57,-26),(46,-27),(49,-28),(53,-28),(56,-27),(58,-27),(43,-30),(46,-30),(49,-29),(51,-30),(54,-29),(55,-30),(44,-32),(47,-31),(39,-33),(41,-35),(43,-34),(45,-33),(49,-33),(51,-32),(50,-34),(52,-34),(29,-37),(26,-38),(24,-39),(28,-40),(32,-39),(34,-40),(30,-41),(24,-41),(26,-42),(28,-42),(31,-41),(33,-42),(25,-44),(28,-44),(30,-44),(31,-45),(38,-40),(39,-38),(41,-39),(43,-39),(37,-39),(44,-42),(47,-42),(42,-42),(44,-43),(40,-44),(39,-46),(39,-47),(42,-50),(40,-50),(38,-50),(36,-50),(37,-52),(41,-52),(39,-53),(35,-52),(34,-54),(36,-55),(33,-56),(35,-56),(41,-54)]

panels = [
  ('a) GATE+CCCAR', [a_c0, a_c1, a_c2, a_c3, a_c4], [a_t0, a_t1, a_t2, a_t3, a_t4], (-79.1, 80), (-85, 80.55), [-60, -40, -20, 0, 20, 40, 60, 80], [-80, -60, -40, -20, 0, 20, 40, 60, 80], (267.3, 692)),
  ('b) GATE+LADV', [b_c0, b_c1, b_c2, b_c3, b_c4], [b_t0, b_t1, b_t2, b_t3, b_t4], (-51.2, 55), (-54, 51.5), [-40, -20, 0, 20, 40], [-40, -20, 0, 20, 40], (777.3, 1203.3)),
  ('c) GATE', [c_c0, c_c1, c_c2, c_c3, c_c4], [c_t0, c_t1, c_t2, c_t3, c_t4], (-48.9, 62), (-71.8, 47.9), [-40, -20, 0, 20, 40, 60], [-60, -40, -20, 0, 20, 40], (1288.3, 1714.3)),
]

W, H = 1930, 780
top, bottom = 52.7, 531.3
fig = plt.figure(figsize=(W / 100, H / 100), dpi=100)

for title, circles, triangles, xlim, ylim, xticks, yticks, (left, right) in panels:
  ax = fig.add_axes([left / W, 1 - bottom / H, (right - left) / W, (bottom - top) / H])
  for pts, col in zip(circles, class_colors):
    ax.scatter([p[0] for p in pts], [p[1] for p in pts], s=58, c=[col], marker='o', edgecolors='white', linewidths=0.8)
  for pts, col in zip(triangles, class_colors):
    ax.scatter([p[0] for p in pts], [p[1] for p in pts], s=52, c=[col], marker='^', edgecolors='black', linewidths=1.3)
  ax.set_xlim(xlim)
  ax.set_ylim(ylim)
  ax.set_xticks(xticks)
  ax.set_yticks(yticks)
  ax.tick_params(labelsize=9)
  ax.grid(True, color='#b0b0b0', linewidth=1)
  ax.set_title(title, fontsize=16, pad=3.5)
  ax.set_xlabel('1st component of T-SNE', fontsize=13.3, labelpad=1)
  ax.set_ylabel('2nd component of T-SNE', fontsize=13.3, labelpad=3)
  handles = [Line2D([], [], linestyle='none', marker='o', markersize=6.5, markerfacecolor=col, markeredgecolor='white', markeredgewidth=0.4) for col in class_colors]
  ax.legend(handles, class_names, loc='upper right', fontsize=6.5, labelspacing=0.6, borderpad=0.5, handletextpad=0.6, handlelength=2, borderaxespad=0.5)

# caption under the panels
serif = 'Liberation Serif'
fig.text(35 / W, 1 - 676 / H, 'Figure 2:', family=serif, fontsize=29, va='baseline')
fig.text(197 / W, 1 - 676 / H, 'T-SNE visualizations for the representations of 4,000 randomly selected examples from English (i.e., source language)', family=serif, fontsize=25.8, va='baseline')
fig.text(35 / W, 1 - 715 / H, 'and Chinese (i.e., target language) data.  Circles and triangles represent English and Chinese examples respectively.  Colors', family=serif, fontsize=27.1, va='baseline')
fig.text(35 / W, 1 - 757 / H, 'represent different classes in EAE. GATE+CCCAR shows induced representation vectors from our proposed model.', family=serif, fontsize=26.5, va='baseline')
fig.text(1920 / W, 1 - 768 / H, 'CSDN @hlee-top', color='#a8a8a8', fontsize=11.5, ha='right', va='baseline')

fig.savefig('out.png', dpi=100)
